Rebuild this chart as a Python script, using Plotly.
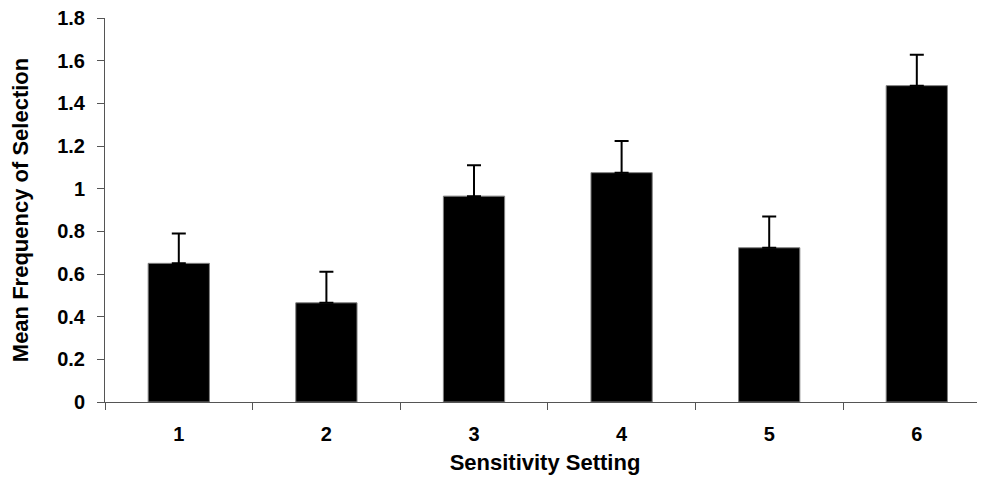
import plotly.graph_objects as go

categories = ["1", "2", "3", "4", "5", "6"]
means = [0.65, 0.465, 0.965, 1.075, 0.723, 1.483]
errors = [0.14, 0.146, 0.145, 0.148, 0.147, 0.145]
y_ticks = [0, 0.2, 0.4, 0.6, 0.8, 1.0, 1.2, 1.4, 1.6, 1.8]
y_tick_labels = ["0", "0.2", "0.4", "0.6", "0.8", "1", "1.2", "1.4", "1.6", "1.8"]

FONT = "Liberation Sans, Arial, sans-serif"

fig = go.Figure(
    go.Bar(
        x=categories,
        y=means,
        width=0.415,
        marker=dict(color="black", line=dict(color="#808080", width=1)),
        error_y=dict(type="data", array=errors, symmetric=False, arrayminus=[0] * 6,
                     color="black", thickness=2, width=7),
    )
)

# page body has an 8px margin, so the figure is sized/offset to compensate
fig.update_layout(
    width=977, height=476,
    margin=dict(l=97, r=0, t=10, b=82),
    paper_bgcolor="white", plot_bgcolor="white",
    showlegend=False,
    font=dict(family=FONT, size=20, color="black"),
    xaxis=dict(
        type="category",
        range=[-0.5, 5.462],
        showline=True, linecolor="#555555", linewidth=1,
        ticks="outside", tickson="boundaries", ticklen=7, tickcolor="#555555",
        tickfont=dict(family=FONT, size=20, color="black", weight="bold"),
        ticklabelstandoff=14,
        showgrid=False, zeroline=False,
        title=dict(text="<b>Sensitivity Setting</b>", font=dict(family=FONT, size=22),
                   standoff=10),
    ),
    yaxis=dict(
        range=[0, 1.8],
        tickvals=y_ticks, ticktext=y_tick_labels,
        showline=True, linecolor="#555555", linewidth=1,
        ticks="outside", ticklen=7, tickcolor="#555555",
        tickfont=dict(family=FONT, size=20, color="black", weight="bold"),
        ticklabelstandoff=8,
        ticklabeloverflow="allow",
        showgrid=False, zeroline=False,
        title=dict(text="<b>Mean Frequency of Selection</b>", font=dict(family=FONT, size=22),
                   standoff=22),
    ),
)

fig.write_html("out.html")
